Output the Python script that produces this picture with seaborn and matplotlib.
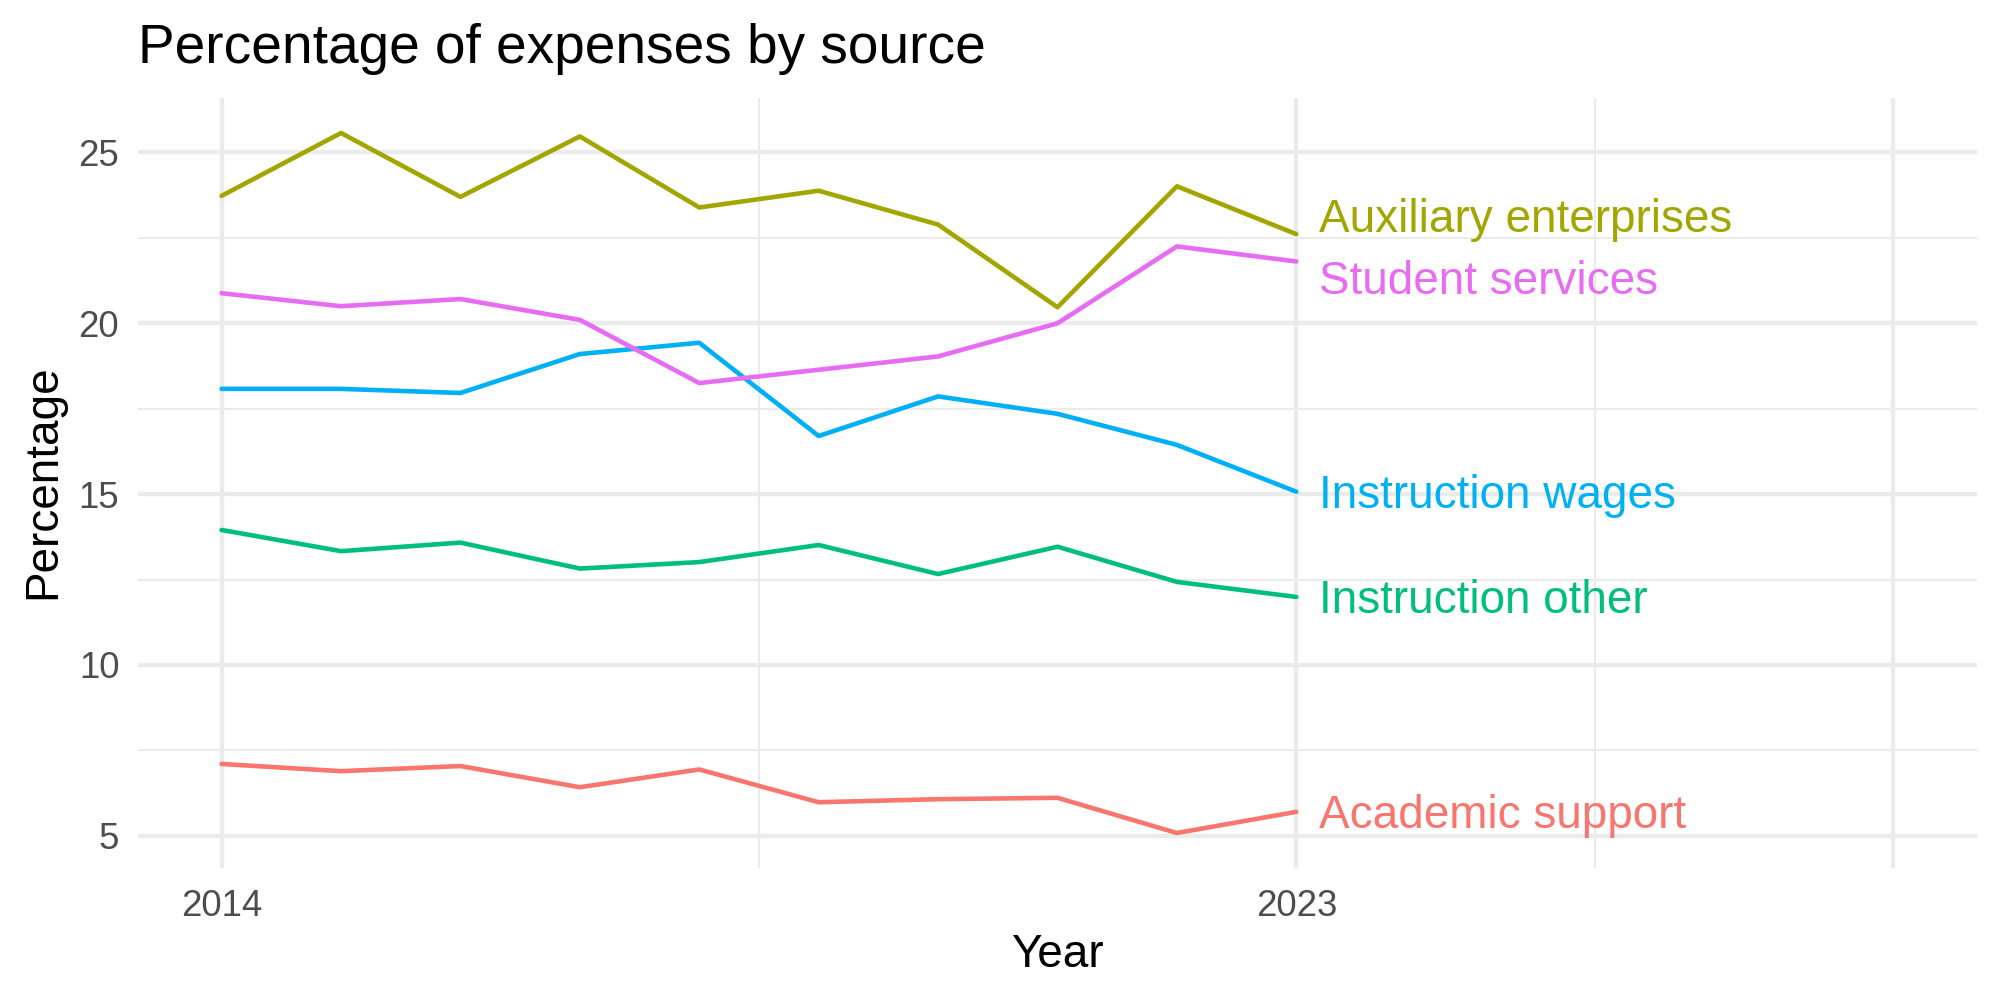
import pandas as pd
import seaborn as sns
import matplotlib.pyplot as plt

# values
years = list(range(2014, 2024))
academic_support = [7.10, 6.89, 7.04, 6.42, 6.94, 5.98, 6.07, 6.11, 5.08, 5.70]
auxiliary_enterprises = [23.73, 25.57, 23.70, 25.47, 23.39, 23.88, 22.89, 20.47, 24.01, 22.61]
instruction_other = [13.95, 13.33, 13.58, 12.82, 13.01, 13.51, 12.66, 13.46, 12.43, 11.99]
instruction_wages = [18.08, 18.08, 17.96, 19.10, 19.43, 16.70, 17.86, 17.35, 16.44, 15.07]
student_services = [20.88, 20.50, 20.71, 20.10, 18.25, 18.64, 19.03, 20.00, 22.25, 21.81]

sources = ['Academic support', 'Auxiliary enterprises', 'Instruction other',
           'Instruction wages', 'Student services']
series = [academic_support, auxiliary_enterprises, instruction_other,
          instruction_wages, student_services]

x_major = [2014, 2023, 2028]
x_major_labels = ['2014', '2023', '']
x_minor = [2018.5, 2025.5]
y_major = [5, 10, 15, 20, 25]
y_minor = [7.5, 12.5, 17.5, 22.5]

# ggplot hue palette
colors = ['#F8766D', '#A3A500', '#00BF7D', '#00B0F6', '#E76BF3']
palette = dict(zip(sources, colors))

# labels pushed apart a little so they do not overlap (like ggrepel)
label_shift = {'Auxiliary enterprises': 0.55, 'Student services': -0.47}

rows = []
for name, vals in zip(sources, series):
    for yr, v in zip(years, vals):
        rows.append({'Year': yr, 'Percentage': v, 'source': name})
df = pd.DataFrame(rows)

sns.set_theme(style='white')
plt.rcParams['font.family'] = ['Liberation Sans', 'DejaVu Sans']

fig = plt.figure(figsize=(20 / 3, 10 / 3), dpi=300)
ax = fig.add_axes([0.069, 0.132, 0.9195, 0.770])

sns.lineplot(data=df, x='Year', y='Percentage', hue='source', palette=palette,
             estimator=None, legend=False, linewidth=1.1, ax=ax)

# end labels
for name, vals in zip(sources, series):
    ax.annotate(name, xy=(years[-1], vals[-1] + label_shift.get(name, 0)),
                xytext=(5.5, -0.358 * 11), textcoords='offset points',
                ha='left', va='baseline', fontsize=11, color=palette[name])

# scales (ggplot style 5% expansion)
lo = min(min(s) for s in series)
hi = max(max(s) for s in series)
r = hi - lo
ax.set_ylim(lo - 0.05 * r, hi + 0.05 * r)
xr = x_major[-1] - years[0]
ax.set_xlim(years[0] - 0.05 * xr, x_major[-1] + 0.05 * xr)

ax.set_xticks(x_major)
ax.set_xticklabels(x_major_labels)
ax.set_xticks(x_minor, minor=True)
ax.set_yticks(y_major)
ax.set_yticks(y_minor, minor=True)

ax.grid(which='major', color='#EBEBEB', linewidth=1.05)
ax.grid(which='minor', color='#EBEBEB', linewidth=0.5)
ax.set_axisbelow(True)
for s in ax.spines.values():
    s.set_visible(False)
ax.tick_params(axis='both', which='both', length=0, labelsize=8.8, labelcolor='#4D4D4D')
ax.tick_params(axis='x', pad=5)
ax.tick_params(axis='y', pad=4.5)
ax.set_xlabel('')
ax.set_ylabel('')

fig.text(0.069, 0.937, 'Percentage of expenses by source', fontsize=13.2,
         ha='left', va='baseline', color='black')
fig.text(0.5288, 0.033, 'Year', fontsize=11, ha='center', va='baseline', color='black')
fig.text(0.0218, 0.518, 'Percentage', fontsize=11, rotation=90,
         ha='center', va='center', color='black')

fig.savefig('out.png', dpi=300, facecolor='white')
